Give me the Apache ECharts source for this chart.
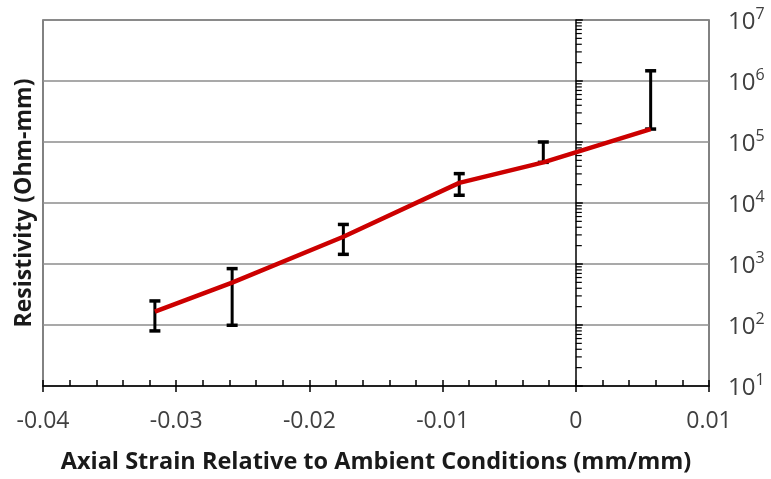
<!DOCTYPE html>
<html>
<head>
<meta charset="utf-8">
<script src="https://cdn.jsdelivr.net/npm/echarts@6/dist/echarts.min.js"></script>
<style>
html,body{margin:0;padding:0;background:#fff;}
#chart{width:771px;height:479px;}
</style>
</head>
<body>
<div id="chart"></div>
<script>
// Data
const strain      = [-0.0316, -0.0258, -0.01745, -0.00875, -0.00244, 0.00562];
const resistivity = [166, 496, 2800, 21400, 46400, 163000];
const errLow      = [80, 99, 1440, 13400, 46400, 163000];
const errHigh     = [248, 840, 4450, 30300, 100000, 1470000];

// Axis tick labels
const xTickLabels = ['-0.04', '-0.03', '-0.02', '-0.01', '0', '0.01'];
const yExponents  = [1, 2, 3, 4, 5, 6, 7];
const minorMantissas = [2, 3, 4, 5, 6, 7, 8, 9];
const minorDecades   = [10, 100, 1000, 10000, 100000, 1000000];

const FONT = '"Open Sans", "Liberation Sans", sans-serif';

const lineData = strain.map((x, i) => [x, resistivity[i]]);
const errData = strain.map((x, i) => [x, errLow[i], errHigh[i]]);
const minorTickData = [];
minorDecades.forEach(d => minorMantissas.forEach(m => minorTickData.push([0, m * d])));

const chart = echarts.init(document.getElementById('chart'), null, {renderer: 'canvas'});

const option = {
  animation: false,
  backgroundColor: '#fff',
  grid: {
    left: 43, top: 20, right: 62, bottom: 92,
    show: true, borderColor: '#5a5a5a', borderWidth: 1.5, backgroundColor: 'transparent'
  },
  xAxis: [
    {
      type: 'value', min: -0.04, max: 0.01, interval: 0.01, position: 'bottom',
      axisLine: {onZero: false, lineStyle: {color: '#000', width: 1.5}},
      axisTick: {show: true, inside: false, length: 6, lineStyle: {color: '#000', width: 1.5}},
      axisLabel: {
        margin: 24, fontFamily: FONT, fontSize: 23, color: '#404040',
        formatter: function (v) {
          const idx = Math.round((v + 0.04) / 0.01);
          return xTickLabels[idx] !== undefined ? xTickLabels[idx] : '';
        }
      },
      splitLine: {show: false},
      name: 'Axial Strain Relative to Ambient Conditions (mm/mm)',
      nameLocation: 'middle', nameGap: 64,
      nameTextStyle: {fontFamily: FONT, fontSize: 23.5, fontWeight: 'bold', color: '#1a1a1a'}
    },
    {
      type: 'value', min: -0.04, max: 0.01, interval: 0.002, position: 'bottom',
      axisLine: {show: false, onZero: false},
      axisTick: {show: true, inside: true, length: 6, lineStyle: {color: '#000', width: 1.5}},
      axisLabel: {show: false},
      splitLine: {show: false}
    }
  ],
  yAxis: [
    {
      type: 'log', logBase: 10, min: 10, max: 10000000, splitNumber: 6, position: 'left',
      axisLine: {show: true, onZero: true, lineStyle: {color: '#000', width: 1.5}},
      axisTick: {show: true, inside: true, length: 7, lineStyle: {color: '#000', width: 1.5}},
      axisLabel: {show: false},
      splitLine: {show: true, lineStyle: {color: '#8c8c8c', width: 1.5}}
    },
    {
      type: 'log', logBase: 10, min: 10, max: 10000000, splitNumber: 6, position: 'right',
      axisLine: {show: false, onZero: false},
      axisTick: {show: false},
      splitLine: {show: false},
      axisLabel: {
        margin: 19,
        formatter: function (v) {
          const e = Math.round(Math.log10(v));
          return '{b|10}{s|' + e + '}';
        },
        rich: {
          b: {fontFamily: FONT, fontSize: 24, color: '#404040', lineHeight: 28, padding: [4, 0, 0, 0]},
          s: {fontFamily: FONT, fontSize: 16, color: '#404040', verticalAlign: 'top', lineHeight: 28, padding: [0, 0, 10, 0]}
        }
      }
    },
    {
      type: 'log', logBase: 10, min: 10, max: 10000000, position: 'left',
      axisLine: {show: false, onZero: false},
      axisTick: {show: false},
      axisLabel: {show: false},
      splitLine: {show: false},
      name: 'Resistivity (Ohm-mm)',
      nameLocation: 'middle', nameGap: 7,
      nameTextStyle: {fontFamily: FONT, fontSize: 23, fontWeight: 'bold', color: '#1a1a1a'}
    }
  ],
  series: [
    {
      name: 'minorTicks', type: 'custom', xAxisIndex: 0, yAxisIndex: 0,
      data: minorTickData, silent: true, z: 3,
      renderItem: function (params, api) {
        const p = api.coord([api.value(0), api.value(1)]);
        return {type: 'line', shape: {x1: p[0], y1: p[1], x2: p[0] + 6, y2: p[1]},
                style: {stroke: '#000', lineWidth: 1.2}};
      }
    },
    {
      name: 'error', type: 'custom', xAxisIndex: 0, yAxisIndex: 0,
      data: errData, z: 4,
      encode: {x: 0, y: [1, 2]},
      renderItem: function (params, api) {
        const x = api.value(0);
        const lo = api.coord([x, api.value(1)]);
        const hi = api.coord([x, api.value(2)]);
        const w = 5.5;
        const st = {stroke: '#000', lineWidth: 3};
        return {type: 'group', children: [
          {type: 'line', shape: {x1: lo[0], y1: lo[1], x2: hi[0], y2: hi[1]}, style: st},
          {type: 'line', shape: {x1: lo[0] - w, y1: lo[1], x2: lo[0] + w, y2: lo[1]}, style: {stroke: '#000', lineWidth: 3.5}},
          {type: 'line', shape: {x1: hi[0] - w, y1: hi[1], x2: hi[0] + w, y2: hi[1]}, style: {stroke: '#000', lineWidth: 3.5}}
        ]};
      }
    },
    {
      name: 'Resistivity', type: 'line', xAxisIndex: 0, yAxisIndex: 0,
      data: lineData, showSymbol: false, symbol: 'none', z: 5,
      lineStyle: {color: '#cc0000', width: 4.5}
    }
  ]
};
chart.setOption(option);
</script>
</body>
</html>
